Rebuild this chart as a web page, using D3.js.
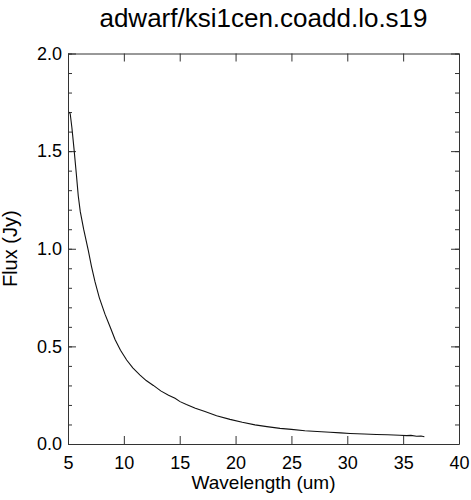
<!DOCTYPE html>
<html><head><meta charset="utf-8">
<script src="https://cdn.jsdelivr.net/npm/d3@7"></script>
<style>body{margin:0;background:#fff}svg{display:block}text{font-family:"Liberation Sans",Arial,Helvetica,sans-serif;fill:#000}</style>
</head><body><svg id="c" width="471" height="500"></svg>
<script>
const title = "adwarf/ksi1cen.coadd.lo.s19";
const xLabel = "Wavelength (um)";
const yLabel = "Flux (Jy)";
const xTicks = [5,10,15,20,25,30,35,40];
const yTicks = [0.0,0.5,1.0,1.5,2.0];
const wavelength = [5.12,5.2,5.35,5.54,5.75,5.92,6.1,6.4,6.82,7.1,7.42,7.8,8.31,8.8,9.21,9.7,10.25,10.8,11.45,12.0,12.64,13.3,14.0,14.58,15.03,15.6,16.4,17.26,18.3,19.5,20.6,21.74,22.8,23.98,25.0,26.2,27.3,28.46,29.4,30.25,31.5,32.6,33.6,34.7,35.3,35.7,36.2,36.6,36.9];
const flux = [1.70,1.69,1.62,1.51,1.38,1.27,1.19,1.10,0.99,0.91,0.83,0.75,0.665,0.595,0.535,0.48,0.43,0.39,0.353,0.325,0.30,0.272,0.25,0.234,0.217,0.202,0.183,0.166,0.145,0.126,0.111,0.098,0.089,0.080,0.075,0.068,0.064,0.060,0.057,0.054,0.051,0.049,0.047,0.045,0.043,0.044,0.040,0.041,0.037];

const L=68,R=459,T=53.5,B=444;
const svg=d3.select("#c");
const x=d3.scaleLinear().domain([5,40]).range([L,R]);
const y=d3.scaleLinear().domain([0,2]).range([B,T]);
const yMinor=d3.range(0,2.0001,0.1);
const ax="#333";
const FS=18;

const g=svg.append("g");
// bottom axis
g.append("g").attr("transform",`translate(0,${B})`)
 .call(d3.axisBottom(x).tickValues(xTicks).tickSizeInner(-8).tickSizeOuter(0).tickPadding(12).tickFormat(d3.format("d")))
 .call(s=>{s.select(".domain").attr("stroke",ax);s.selectAll("line").attr("stroke",ax);s.selectAll("text").attr("font-size",FS).attr("font-family","Liberation Sans, Arial, sans-serif").attr("fill","#000");});
// top axis
g.append("g").attr("transform",`translate(0,${T})`)
 .call(d3.axisTop(x).tickValues(xTicks).tickSizeInner(-8).tickSizeOuter(0).tickFormat(""))
 .call(s=>{s.select(".domain").attr("stroke",ax);s.selectAll("line").attr("stroke",ax);});
// left axis minor
g.append("g").attr("transform",`translate(${L},0)`)
 .call(d3.axisLeft(y).tickValues(yMinor).tickSizeInner(-4).tickSizeOuter(0).tickFormat(""))
 .call(s=>{s.select(".domain").attr("stroke",ax);s.selectAll("line").attr("stroke",ax);});
// left axis major
g.append("g").attr("transform",`translate(${L},0)`)
 .call(d3.axisLeft(y).tickValues(yTicks).tickSizeInner(-8).tickSizeOuter(0).tickPadding(6).tickFormat(d3.format(".1f")))
 .call(s=>{s.select(".domain").remove();s.selectAll("line").attr("stroke",ax);s.selectAll("text").attr("font-size",FS).attr("font-family","Liberation Sans, Arial, sans-serif").attr("fill","#000");});
// right axis
g.append("g").attr("transform",`translate(${R},0)`)
 .call(d3.axisRight(y).tickValues(yMinor).tickSizeInner(-4).tickSizeOuter(0).tickFormat(""))
 .call(s=>{s.select(".domain").attr("stroke",ax);s.selectAll("line").attr("stroke",ax);});
g.append("g").attr("transform",`translate(${R},0)`)
 .call(d3.axisRight(y).tickValues(yTicks).tickSizeInner(-8).tickSizeOuter(0).tickFormat(""))
 .call(s=>{s.select(".domain").remove();s.selectAll("line").attr("stroke",ax);});

// curve
const data=wavelength.map((w,i)=>[w,flux[i]]);
svg.append("path").datum(data)
 .attr("fill","none").attr("stroke","#111").attr("stroke-width",1.1)
 .attr("d",d3.line().x(d=>x(d[0])).y(d=>y(d[1])));

// titles
svg.append("text").attr("x",(L+R)/2).attr("y",27).attr("text-anchor","middle").attr("font-size",26).text(title);
svg.append("text").attr("x",(L+R)/2).attr("y",489).attr("text-anchor","middle").attr("font-size",19).text(xLabel);
svg.append("text").attr("transform",`translate(17,${(T+B)/2}) rotate(-90)`).attr("text-anchor","middle").attr("font-size",20).text(yLabel);
</script></body></html>
